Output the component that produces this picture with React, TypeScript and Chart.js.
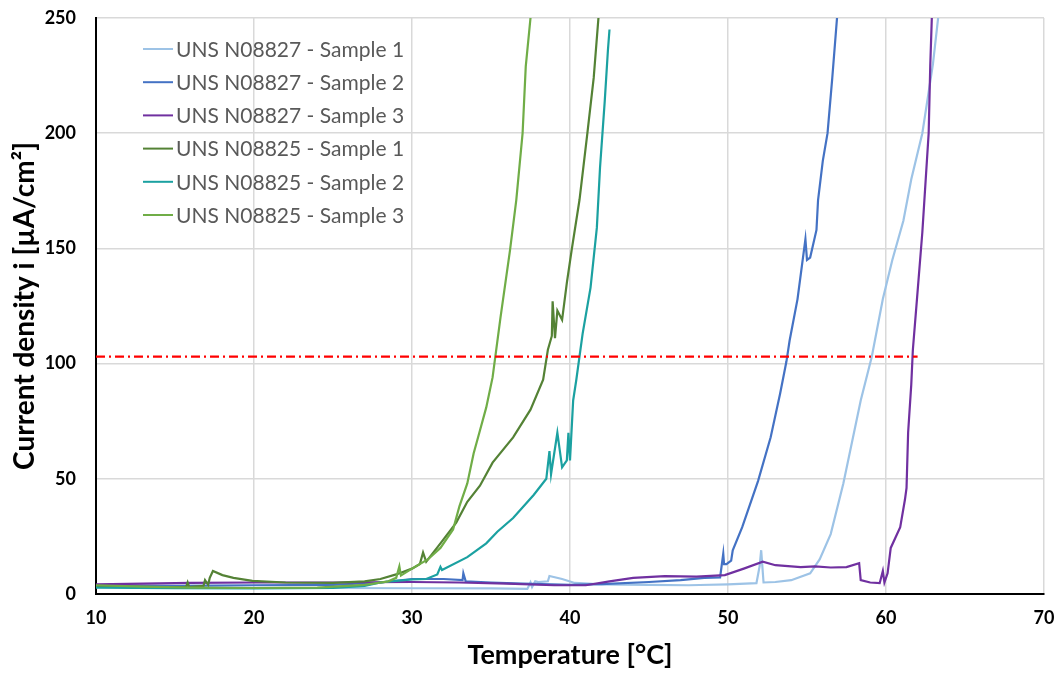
import React, { useEffect, useRef } from "react";
import { Chart, registerables } from "chart.js";

Chart.register(...registerables);

// ---- Data ----
const seriesLabels = [
  "UNS N08827 - Sample 1",
  "UNS N08827 - Sample 2",
  "UNS N08827 - Sample 3",
  "UNS N08825 - Sample 1",
  "UNS N08825 - Sample 2",
  "UNS N08825 - Sample 3",
];

const n08827s1Temp = [10, 12, 15, 20, 25, 30, 35, 37.3, 37.5, 37.6, 37.8, 38.0, 38.6, 38.7, 39.5, 40.3, 42, 45, 47.5, 48.2, 50, 51.8, 52.0, 52.1, 52.25, 53, 54, 55.2, 55.8, 56.5, 57.3, 58.4, 59.1, 59.8, 60.4, 61.1, 61.6, 62.3, 62.97, 63.3];
const n08827s1Current = [3.2, 3.0, 2.8, 2.6, 2.6, 2.5, 2.4, 2.2, 5, 3, 5.5, 5.2, 5.5, 7.8, 6.5, 4.8, 4.2, 4.0, 3.8, 3.9, 4.2, 4.7, 12, 19, 5, 5.2, 6, 9, 15, 26, 48, 84, 103, 128, 145, 162, 180, 200, 230, 250];

const n08827s2Temp = [10, 15, 20, 25, 28, 30, 32, 33.2, 33.25, 33.4, 35, 37, 40, 42, 45, 47, 48.5, 49.5, 49.7, 49.75, 49.9, 50.2, 50.3, 50.9, 51.9, 52.7, 53.3, 53.7, 53.9, 54.4, 54.9, 55.0, 55.2, 55.6, 55.7, 56.0, 56.3, 56.6, 56.9];
const n08827s2Current = [3.8, 3.5, 3.8, 4, 5, 6.5, 6.5, 6, 9, 5.5, 5, 4.5, 4.0, 4.3, 5.2, 6.0, 7, 7.2, 17.5, 13, 13, 14.5, 19, 29, 49, 68, 87, 101, 110, 128, 154, 145, 146, 158, 171, 188, 200, 224, 250];

const n08827s3Temp = [10, 13, 16, 20, 25, 30, 33, 36, 39, 41, 42.5, 44, 46, 48, 49.8, 51, 52.2, 53, 54.6, 55.5, 56.5, 57.5, 58.3, 58.4, 59, 59.6, 59.8, 59.9, 60.1, 60.3, 60.9, 61.2, 61.3, 61.4, 61.6, 61.7, 61.96, 62.3, 62.7, 62.8, 62.9];
const n08827s3Current = [4.2, 4.5, 4.8, 5.0, 5.0, 5.2, 5.0, 4.5, 3.8, 3.8, 5.5, 7, 7.8, 7.5, 8.2, 11, 14, 12.5, 11.7, 12, 11.5, 11.7, 13.4, 6, 5, 4.7, 10, 5, 9, 20, 29, 41, 46, 70, 91, 106, 128, 157, 200, 229, 250];

const n08825s1Temp = [10, 12, 14, 15.7, 15.8, 15.9, 16.8, 16.9, 17.1, 17.2, 17.4, 18, 18.7, 19.9, 22, 25, 27, 28, 29, 30, 30.5, 30.7, 30.9, 31.8, 32.8, 33.5, 34.3, 35.1, 36.4, 37.5, 38.3, 38.6, 38.85, 38.9, 39.05, 39.2, 39.5, 39.8, 40.1, 40.6, 41.1, 41.5, 41.8];
const n08825s1Current = [3.5, 3.2, 3.0, 3.0, 5, 3, 3.5, 6, 4, 7, 10, 8.2, 7, 5.7, 5.0, 4.8, 5.5, 6.5, 8.5, 11, 13, 18, 14, 22, 31, 40, 47, 57, 68, 80, 93, 106, 112, 127, 111, 123, 119, 135, 149, 171, 200, 224, 250];

const n08825s2Temp = [10, 15, 20, 25, 27, 28, 28.6, 30, 30.9, 31.6, 31.8, 31.9, 33.5, 34.7, 35.4, 36.4, 37.7, 38.5, 38.7, 38.8, 39.2, 39.5, 39.8, 39.9, 40.0, 40.2, 40.4, 40.8, 41.3, 41.7, 41.9, 42.2, 42.4, 42.5];
const n08825s2Current = [2.8, 2.5, 2.4, 2.6, 3.5, 5, 5.5, 6.3, 6.5, 8.5, 11.8, 10.4, 16, 22, 27, 33, 43, 50, 62, 52, 70, 55, 58, 70, 58, 84, 93, 113, 133, 159, 185, 214, 236, 245];

const n08825s3Temp = [10, 13, 16, 20, 24, 27, 28.5, 29.0, 29.2, 29.3, 30, 31, 31.8, 32.6, 33.0, 33.5, 33.9, 34.3, 34.7, 35.1, 35.6, 36.2, 36.6, 37.0, 37.2, 37.5];
const n08825s3Current = [3.8, 3.2, 2.8, 2.6, 2.8, 4, 5.5, 7, 12, 8, 11, 15, 20, 28, 38, 48, 61, 71, 81, 94, 120, 149, 171, 200, 229, 250];

const thresholdTemp = [10, 62];
const thresholdCurrent = [103, 103];

const xTicks = [10, 20, 30, 40, 50, 60, 70];
const yTicks = [0, 50, 100, 150, 200, 250];

const xTitle = "Temperature [°C]";
const yTitle = "Current density i [µA/cm²]";

// ---- Styling ----
const seriesColors = ["#9DC3E6", "#4472C4", "#7030A0", "#548235", "#1BA1A1", "#70AD47"];
const FONT = "Lato, 'Open Sans', sans-serif";

const toPoints = (xs: number[], ys: number[]) => xs.map((x, i) => ({ x, y: ys[i] }));

const insideLegend = {
  id: "insideLegend",
  afterDraw(chart: any) {
    const ctx = chart.ctx as CanvasRenderingContext2D;
    ctx.save();
    ctx.font = `21px ${FONT}`;
    ctx.textBaseline = "middle";
    ctx.textAlign = "left";
    let row = 0;
    chart.data.datasets.forEach((ds: any) => {
      if (ds.hideInLegend) return;
      const y = 49 + row * 33.2;
      ctx.strokeStyle = ds.borderColor;
      ctx.lineWidth = 2;
      ctx.beginPath();
      ctx.moveTo(143, y);
      ctx.lineTo(173, y);
      ctx.stroke();
      ctx.fillStyle = "#595959";
      ctx.fillText(ds.label, 176, y + 1);
      row++;
    });
    ctx.restore();
  },
};

export default function App() {
  const canvasRef = useRef<HTMLCanvasElement | null>(null);

  useEffect(() => {
    if (!canvasRef.current) return;
    const seriesData = [
      toPoints(n08827s1Temp, n08827s1Current),
      toPoints(n08827s2Temp, n08827s2Current),
      toPoints(n08827s3Temp, n08827s3Current),
      toPoints(n08825s1Temp, n08825s1Current),
      toPoints(n08825s2Temp, n08825s2Current),
      toPoints(n08825s3Temp, n08825s3Current),
    ];
    const datasets: any[] = seriesData.map((data, i) => ({
      label: seriesLabels[i],
      data,
      borderColor: seriesColors[i],
      backgroundColor: seriesColors[i],
      borderWidth: 2.2,
      pointRadius: 0,
      tension: 0,
      order: 10 - i,
    }));
    datasets.push({
      label: "threshold",
      hideInLegend: true,
      data: toPoints(thresholdTemp, thresholdCurrent),
      borderColor: "#FF0000",
      borderWidth: 2.2,
      borderDash: [9, 4, 2, 4],
      pointRadius: 0,
      order: 0,
    });

    const chart = new Chart(canvasRef.current, {
      type: "line",
      data: { datasets },
      plugins: [insideLegend],
      options: {
        animation: false,
        responsive: true,
        maintainAspectRatio: false,
        layout: { padding: { top: 18, right: 16, left: 0, bottom: 0 } },
        plugins: { legend: { display: false }, tooltip: { enabled: false } },
        scales: {
          x: {
            type: "linear",
            min: 10,
            max: 70,
            afterFit: (s: any) => {
              s.height = 79;
              s.paddingLeft = 0;
              s.paddingRight = 0;
            },
            afterBuildTicks: (s: any) => { s.ticks = xTicks.map((v) => ({ value: v })); },
            grid: { color: "#D9D9D9", lineWidth: 1.5, drawTicks: false },
            border: { color: "#000000", width: 2 },
            ticks: { color: "#000000", padding: 13, font: { family: FONT, size: 18, weight: "bold" } },
            title: {
              display: true,
              text: xTitle,
              color: "#000000",
              font: { family: FONT, size: 27, weight: "bold" },
              padding: { top: 0, bottom: 2 },
            },
          },
          y: {
            type: "linear",
            min: 0,
            max: 250,
            afterFit: (s: any) => {
              s.width = 96;
              s.paddingTop = 0;
              s.paddingBottom = 0;
            },
            afterBuildTicks: (s: any) => { s.ticks = yTicks.map((v) => ({ value: v })); },
            grid: { color: "#D9D9D9", lineWidth: 1.5, drawTicks: false },
            border: { color: "#000000", width: 2 },
            ticks: { color: "#000000", padding: 20, font: { family: FONT, size: 18, weight: "bold" } },
            title: {
              display: true,
              text: yTitle,
              color: "#000000",
              font: { family: FONT, size: 28, weight: "bold" },
              padding: { top: 8, bottom: 0 },
            },
          },
        },
      },
    });
    let alive = true;
    if ((document as any).fonts?.ready) {
      (document as any).fonts.ready.then(() => { if (alive) chart.update(); });
    }
    return () => { alive = false; chart.destroy(); };
  }, []);

  return (
    <div style={{ position: "absolute", left: 0, top: 0, width: 1060, height: 673, background: "#ffffff" }}>
      <canvas ref={canvasRef} />
    </div>
  );
}
